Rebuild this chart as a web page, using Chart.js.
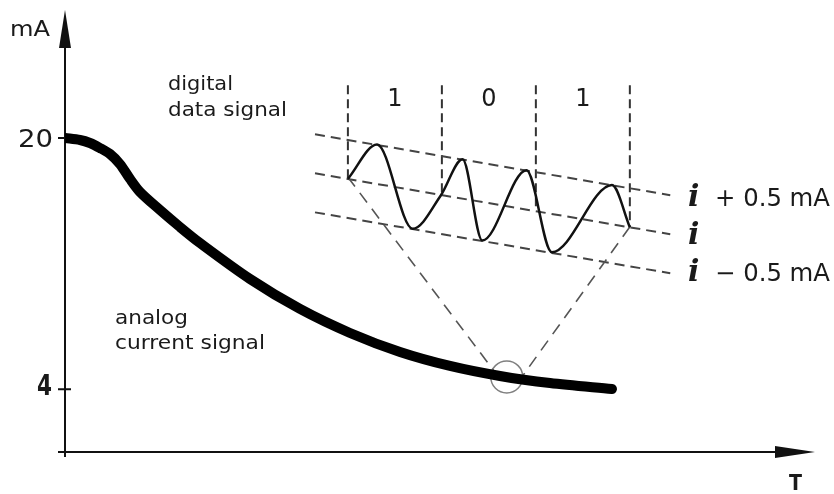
<!DOCTYPE html>
<html><head><meta charset="utf-8">
<script src="https://cdn.jsdelivr.net/npm/chart.js@4/dist/chart.umd.min.js"></script>
<style>html,body{margin:0;padding:0;background:#fff;overflow:hidden}</style>
</head><body>
<canvas id="c" width="834" height="494"></canvas>
<script>
// ---- analog current signal (time units 0..100, current in mA)
const timeValues    = [0, 2.0, 3.33, 4.67, 6.0, 7.33, 8.67, 10.0, 12.67, 15.33, 18.0, 24.67, 31.33, 38.0, 44.67, 51.33, 58.0, 64.67, 72.93];
const currentValues = [20.0, 19.87, 19.68, 19.36, 18.98, 18.34, 17.39, 16.56, 15.41, 14.33, 13.31, 11.02, 9.11, 7.58, 6.37, 5.48, 4.84, 4.39, 4.01];
const yTickValues = [4, 20];
const yTickLabels = ['4', '20'];

// ---- inset: digital data signal (bit time, local current in mA)
const bitBoundaries = [0, 1, 2, 3];
const bitLabels = ['1', '0', '1'];
const bitTopValue = 6.0;
const bitBottomValues = [4.80, 4.59, 4.39, 4.18];
const bandTimes = [-0.35, 3.43];
const bandMidValues = [4.87, 4.09];
const bandOffsets = [0.5, 0, -0.5];
const bandLabels = ['+ 0.5 mA', '', '\u2212 0.5 mA'];
const waveTimes  = [0, 0.31, 0.69, 0.99, 1.22, 1.43, 1.90, 2.17, 2.81, 3.0];
const waveValues = [4.80, 5.24, 4.16, 4.59, 5.05, 4.01, 4.91, 3.86, 4.72, 4.18];

// ---- zoom marker (main scale units)
const zoomPoint = [58.9, 4.78];
const funnelFrom = [[37.7, 17.52], [75.3, 14.33]];
const funnelTo   = [[57.3, 5.10], [61.1, 4.90]];

const FONT = 'DejaVu Sans';
const INK = '#1a1a1a';

function fitText(ctx, str, left, base, font, w) {
  ctx.save();
  ctx.font = font;
  const m = ctx.measureText(str).width;
  ctx.translate(left, base);
  if (w) ctx.scale(w / m, 1);
  ctx.textAlign = 'left';
  ctx.textBaseline = 'alphabetic';
  ctx.fillText(str, 0, 0);
  ctx.restore();
}

const decor = {
  id: 'decor',
  beforeDatasetsDraw(chart) {
    const ctx = chart.ctx, ax = chart.scales.x, ay = chart.scales.y;
    const x0 = ax.getPixelForValue(0), y0 = ay.getPixelForValue(0);
    const top = chart.chartArea.top, right = chart.chartArea.right;
    ctx.save();
    ctx.strokeStyle = '#111'; ctx.fillStyle = '#111'; ctx.lineWidth = 2;
    ctx.beginPath();
    ctx.moveTo(x0, y0 + 5); ctx.lineTo(x0, top + 30);
    ctx.moveTo(x0 - 7, y0); ctx.lineTo(right - 30, y0);
    yTickValues.forEach(v => { const y = ay.getPixelForValue(v); ctx.moveTo(x0 - 7, y); ctx.lineTo(x0 + 6, y); });
    ctx.stroke();
    ctx.beginPath();
    ctx.moveTo(x0, top); ctx.lineTo(x0 - 6, top + 38); ctx.lineTo(x0 + 6, top + 38); ctx.closePath(); ctx.fill();
    ctx.beginPath();
    ctx.moveTo(right, y0); ctx.lineTo(right - 40, y0 - 6); ctx.lineTo(right - 40, y0 + 6); ctx.closePath(); ctx.fill();
    ctx.restore();
  },
  afterDraw(chart) {
    const ctx = chart.ctx, ay = chart.scales.y, x2 = chart.scales.x2;
    ctx.save();
    ctx.fillStyle = INK;
    fitText(ctx, 'mA', 10, 36, '21px ' + FONT, 40);
    const y20 = ay.getPixelForValue(yTickValues[1]);
    const y4 = ay.getPixelForValue(yTickValues[0]);
    fitText(ctx, yTickLabels[1], 18, y20 + 9, '25px ' + FONT, 35);
    fitText(ctx, yTickLabels[0], 37, y4 + 6, 'bold 28px ' + FONT, 15);
    fitText(ctx, 'digital', 168, 90, '19px ' + FONT, 65);
    fitText(ctx, 'data signal', 168, 116, '19px ' + FONT, 119);
    fitText(ctx, 'analog', 115, 324, '19px ' + FONT, 73);
    fitText(ctx, 'current signal', 115, 349, '19px ' + FONT, 150);
    // bit labels
    ctx.font = '24px ' + FONT; ctx.textAlign = 'center'; ctx.textBaseline = 'alphabetic';
    bitLabels.forEach((b, k) => ctx.fillText(b, x2.getPixelForValue(bitBoundaries[k] + 0.5), 106));
    // band labels
    const bases = [206, 244, 281];
    bandOffsets.forEach((o, k) => {
      fitText(ctx, 'i', 688, bases[k], 'bold italic 30px DejaVu Serif', null);
      if (bandLabels[k]) fitText(ctx, bandLabels[k], 715, bases[k], '24px ' + FONT, 115);
    });
    fitText(ctx, 'T', 789, 490, 'bold 22px ' + FONT, 13);
    ctx.restore();
  }
};

const datasets = [];
datasets.push({
  data: timeValues.map((t, i) => ({x: t, y: currentValues[i]})),
  borderColor: '#000', borderWidth: 10, pointRadius: 0,
  tension: 0.3, borderCapStyle: 'round', borderJoinStyle: 'round',
  xAxisID: 'x', yAxisID: 'y', order: 0
});
datasets.push({
  data: [{x: zoomPoint[0], y: zoomPoint[1]}], showLine: false,
  pointRadius: 16, pointBorderColor: '#808080', pointBorderWidth: 1.5,
  pointBackgroundColor: 'rgba(0,0,0,0)', xAxisID: 'x', yAxisID: 'y', order: 2
});
funnelFrom.forEach((p, k) => datasets.push({
  data: [{x: p[0], y: p[1]}, {x: funnelTo[k][0], y: funnelTo[k][1]}],
  borderColor: '#555', borderWidth: 1.6, borderDash: [12, 8], pointRadius: 0,
  xAxisID: 'x', yAxisID: 'y', order: 3
}));
bandOffsets.forEach(o => datasets.push({
  data: bandTimes.map((t, i) => ({x: t, y: bandMidValues[i] + o})),
  borderColor: '#444', borderWidth: 2, borderDash: [10, 6], pointRadius: 0,
  xAxisID: 'x2', yAxisID: 'y2', order: 3
}));
bitBoundaries.forEach((b, k) => datasets.push({
  data: [{x: b, y: bitTopValue}, {x: b, y: bitBottomValues[k]}],
  borderColor: '#333', borderWidth: 2, borderDash: [9, 5], pointRadius: 0,
  xAxisID: 'x2', yAxisID: 'y2', order: 3
}));
datasets.push({
  data: waveTimes.map((t, i) => ({x: t, y: waveValues[i]})),
  borderColor: '#111', borderWidth: 2.5, pointRadius: 0,
  cubicInterpolationMode: 'monotone', xAxisID: 'x2', yAxisID: 'y2', order: 1
});

new Chart(document.getElementById('c'), {
  type: 'line',
  data: {datasets},
  options: {
    responsive: false, animation: false, events: [],
    plugins: {legend: {display: false}, tooltip: {enabled: false}},
    layout: {autoPadding: false, padding: {left: 65, right: 19, top: 10, bottom: 42}},
    scales: {
      x:  {type: 'linear', min: 0, max: 100, display: false},
      y:  {type: 'linear', min: 0, max: 28.15, display: false},
      x2: {type: 'linear', min: -3.01, max: 4.97, display: false},
      y2: {type: 'linear', min: 1.30, max: 6.963, display: false}
    }
  },
  plugins: [decor]
});
</script>
</body></html>
